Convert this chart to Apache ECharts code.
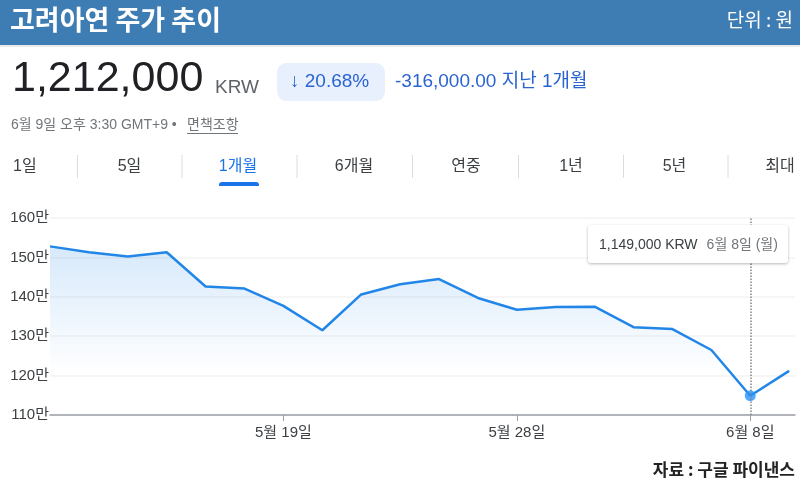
<!DOCTYPE html>
<html>
<head>
<meta charset="utf-8">
<script src="https://cdn.jsdelivr.net/npm/echarts@6/dist/echarts.min.js"></script>
<style>
  html, body { margin: 0; padding: 0; background: #fff; }
  #chart { width: 800px; height: 493px; }
</style>
</head>
<body>
<div id="chart"></div>
<script>
// 거래일 (종가 기준)
var dates = [
  '2026-05-11', '2026-05-12', '2026-05-13', '2026-05-14', '2026-05-15',
  '2026-05-18', '2026-05-19', '2026-05-20', '2026-05-21', '2026-05-22',
  '2026-05-26', '2026-05-27', '2026-05-28', '2026-05-29', '2026-06-01',
  '2026-06-02', '2026-06-04', '2026-06-05', '2026-06-08', '2026-06-09'
]
var prices = [
  1528000, 1513000, 1502000, 1513000, 1426000,
  1421000, 1377000, 1315000, 1406000, 1432000,
  1445000, 1397000, 1367000, 1374000, 1375000,
  1323000, 1318000, 1265000, 1149000, 1212000
]
var tickDates = ['2026-05-19', '2026-05-28', '2026-06-08']
var yTicks = [1100000, 1200000, 1300000, 1400000, 1500000, 1600000]
var tabs = ['1일', '5일', '1개월', '6개월', '연중', '1년', '5년', '최대']
var hoverDate = '2026-06-08'

var lastPrice = '1,212,000'
var changePct = '20.68%'
var changeAbs = '-316,000.00'

var latin = "'Liberation Sans', Arial, 'Noto Sans CJK KR', sans-serif"
var kr = "'Noto Sans CJK KR', sans-serif"
var weekdays = ['일', '월', '화', '수', '목', '금', '토']

function krDate (d) {
  var p = d.split('-')
  return (+p[1]) + '월 ' + (+p[2]) + '일'
}
function fmt (n) {
  return n.toString().replace(/\B(?=(\d{3})+(?!\d))/g, ',')
}

var tickIdx = tickDates.map(function (d) { return dates.indexOf(d) })
var hoverIdx = dates.indexOf(hoverDate)
var seriesData = prices.map(function (v, i) { return [i, v] })

var tabX = [13, 129.5, 238, 354, 466, 571, 674.5, 780]
var sepX = [77.5, 182, 297, 412.5, 518.5, 623.5, 728]

var graphics = [
  { type: 'rect', shape: { x: 0, y: 0, width: 800, height: 45 }, style: { fill: '#3e7db3' } },
  { type: 'rect', shape: { x: 0, y: 45, width: 800, height: 2 }, style: { fill: '#ebebeb' } },
  { type: 'text', x: 10, y: 20, style: { text: '고려아연 주가 추이', font: 'bold 27px ' + kr, fill: '#fff', textVerticalAlign: 'middle' } },
  { type: 'text', x: 793, y: 20, style: { text: '단위 : 원', font: '19px ' + kr, fill: '#fff', textAlign: 'right', textVerticalAlign: 'middle' } },
  { type: 'text', x: 12, y: 79, style: { text: lastPrice, font: '43px ' + latin, fill: '#202124', textVerticalAlign: 'middle' } },
  { type: 'text', x: 215, y: 88, style: { text: 'KRW', font: '19px ' + latin, fill: '#5f6368', textVerticalAlign: 'middle' } },
  { type: 'rect', shape: { x: 277, y: 63, width: 108, height: 38, r: 9 }, style: { fill: '#e8f0fe' } },
  { type: 'text', x: 290, y: 82, style: { text: '↓ ' + changePct, font: '19px ' + latin, fill: '#2a64d0', textVerticalAlign: 'middle' } },
  { type: 'text', x: 395, y: 82, style: { text: changeAbs + ' 지난 1개월', font: '19px ' + latin, fill: '#2a64d0', textVerticalAlign: 'middle' } },
  { type: 'text', x: 11, y: 125, style: { text: '6월 9일 오후 3:30 GMT+9 •', font: '14px ' + latin, fill: '#70757a', textVerticalAlign: 'middle' } },
  { type: 'text', x: 187, y: 125, style: { text: '면책조항', font: '14px ' + latin, fill: '#70757a', textVerticalAlign: 'middle' } },
  { type: 'line', shape: { x1: 187, y1: 133.5, x2: 238, y2: 133.5 }, style: { stroke: '#70757a', lineWidth: 1 } },
  { type: 'rect', shape: { x: 219, y: 182, width: 40, height: 4, r: [3, 3, 0, 0] }, style: { fill: '#1a73e8' } },
  { type: 'text', x: 795, y: 469.5, style: { text: '자료 : 구글 파이낸스', font: 'bold 17px ' + kr, fill: '#222', textAlign: 'right', textVerticalAlign: 'middle' } }
]
tabs.forEach(function (t, i) {
  graphics.push({
    type: 'text', x: tabX[i], y: 167,
    style: {
      text: t, font: '16px ' + latin,
      fill: i === 2 ? '#1a73e8' : '#3c4043',
      textAlign: i === 0 ? 'left' : 'center', textVerticalAlign: 'middle'
    }
  })
})
sepX.forEach(function (x) {
  graphics.push({ type: 'line', shape: { x1: x, y1: 155, x2: x, y2: 178 }, style: { stroke: '#dadce0', lineWidth: 1 } })
})

var myChart = echarts.init(document.getElementById('chart'))
var option = {
  animation: false,
  graphic: graphics,
  grid: { left: 50, right: 5, top: 218, bottom: 78, containLabel: false },
  tooltip: {
    trigger: 'axis',
    triggerOn: 'none',
    alwaysShowContent: true,
    transitionDuration: 0,
    position: [588, 225],
    backgroundColor: '#fff',
    borderWidth: 0,
    padding: [8, 10, 8, 11],
    extraCssText: 'box-shadow: 0 1px 3px rgba(0,0,0,0.28); border-radius: 3px;',
    axisPointer: {
      type: 'line',
      lineStyle: { color: '#80868b', type: 'dotted', width: 1.5 }
    },
    formatter: function (params) {
      var i = params[0].dataIndex
      var d = new Date(dates[i] + 'T00:00:00')
      return '<span style="font:14px ' + latin.replace(/'/g, '&quot;') + ';color:#3c4043">' + fmt(prices[i]) + ' KRW</span>' +
        '<span style="font:14px ' + latin.replace(/'/g, '&quot;') + ';color:#70757a;margin-left:9px">' +
        krDate(dates[i]) + ' (' + weekdays[d.getDay()] + ')</span>'
    }
  },
  xAxis: {
    type: 'value',
    min: 0,
    max: 19.15,
    axisLine: { show: true, lineStyle: { color: '#9aa0a6', width: 1.5 } },
    axisTick: { show: true, customValues: tickIdx, length: 6, lineStyle: { color: '#9aa0a6' } },
    axisLabel: {
      customValues: tickIdx,
      margin: 10,
      fontSize: 15,
      fontFamily: latin,
      color: '#3c4043',
      formatter: function (v) { return dates[v] ? krDate(dates[v]) : '' }
    },
    splitLine: { show: false }
  },
  yAxis: {
    type: 'value',
    min: yTicks[0],
    max: yTicks[yTicks.length - 1],
    interval: 100000,
    axisLine: { show: false },
    axisTick: { show: false },
    axisLabel: {
      margin: 1,
      fontSize: 15,
      fontFamily: latin,
      color: '#3c4043',
      formatter: function (v) { return (v / 10000) + '만' }
    },
    splitLine: { lineStyle: { color: '#f3f3f3', width: 1.5 } }
  },
  series: [{
    type: 'line',
    data: seriesData,
    showSymbol: false,
    symbol: 'none',
    lineStyle: { color: '#2286e8', width: 2.5 },
    emphasis: { disabled: true },
    areaStyle: {
      color: new echarts.graphic.LinearGradient(0, 0, 0, 1, [
        { offset: 0, color: 'rgba(34,134,232,0.26)' },
        { offset: 0.75, color: 'rgba(34,134,232,0)' }
      ])
    }
  }, {
    type: 'scatter',
    data: [seriesData[hoverIdx]],
    symbolSize: 10,
    itemStyle: { color: '#2286e8' },
    silent: true,
    z: 5
  }]
}
myChart.setOption(option, true)
myChart.dispatchAction({ type: 'showTip', seriesIndex: 0, dataIndex: hoverIdx })
</script>
</body>
</html>
